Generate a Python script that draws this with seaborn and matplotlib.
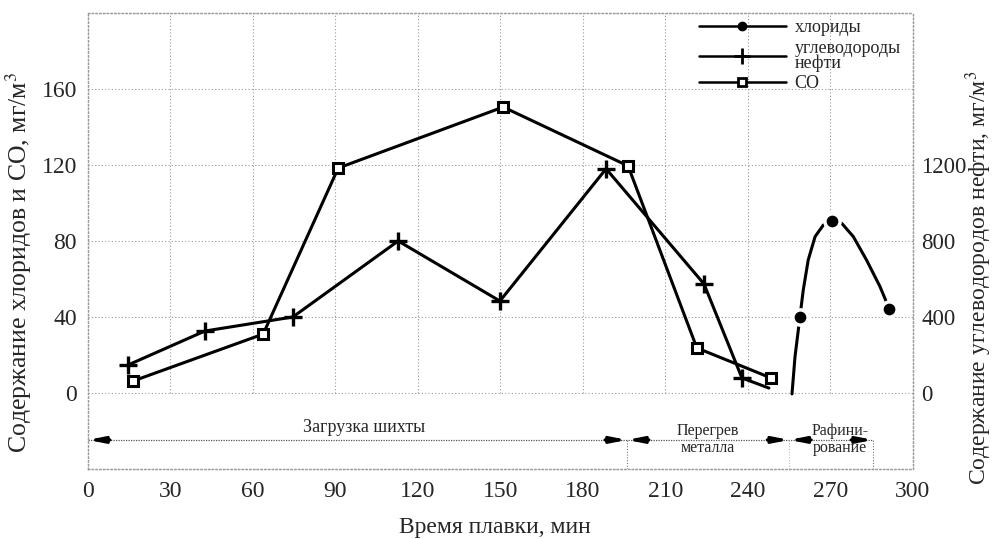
import numpy as np
import pandas as pd
import matplotlib
matplotlib.use("Agg")
import matplotlib.pyplot as plt
from matplotlib.lines import Line2D
import seaborn as sns

# CO, mg/m3 (left axis)
co_time = [16.4, 63.7, 91.0, 151.0, 196.4, 221.4, 248.4]
co_val = [6.3, 31.0, 118.4, 150.5, 119.5, 23.7, 7.9]

# petroleum hydrocarbons, mg/m3 (right axis); last point has no marker
hc_time = [14.5, 42.5, 74.5, 112.8, 149.8, 188.4, 224.0, 237.8, 247.6]
hc_val = [147, 326, 400, 800, 484, 1180, 574, 79, 26]

# chlorides, mg/m3 (left axis): measured points and the drawn curve
cl_time = [258.9, 270.7, 291.4]
cl_val = [40.2, 90.5, 44.2]
cl_curve_t = [256.0, 257.1, 258.9, 260.1, 261.9, 264.4, 267.4, 270.7,
              274.1, 278.3, 283.1, 288.0, 291.4]
cl_curve_v = [-0.5, 19.1, 40.2, 54.2, 70.0, 82.3, 88.4, 90.5,
              89.3, 82.3, 70.0, 56.0, 44.2]

x_ticks = [0, 30, 60, 90, 120, 150, 180, 210, 240, 270, 300]
left_ticks = [0, 40, 80, 120, 160]
right_ticks = [0, 400, 800, 1200]

# process stages along the time axis
stage_bounds = [0, 196, 255, 285.5]
stage_names = ["Загрузка шихты", "Перегрев\nметалла", "Рафини-\nрование"]

sns.set_style("white")
plt.rcParams["font.family"] = ["Liberation Serif", "DejaVu Serif"]
plt.rcParams["mathtext.fontset"] = "stix"

fig = plt.figure(figsize=(9.94, 5.39), dpi=100)
ax = fig.add_axes([0.0885, 0.1299, 0.83, 0.846])
ax2 = ax.twinx()

grid_kw = dict(color="#9a9a9a", lw=0.8, ls=(0, (1, 2)))

ax.set_xlim(0, 300)
ax.set_ylim(-40, 200)
ax2.set_ylim(-400, 2000)

# grid: horizontal over full width, vertical only above zero
for yv in left_ticks:
    ax.axhline(yv, zorder=0, **grid_kw)
ax.vlines(x_ticks[1:-1], 0, 200, zorder=0, **grid_kw)

co_df = pd.DataFrame({"t": co_time, "v": co_val})
hc_df = pd.DataFrame({"t": hc_time, "v": hc_val})
curve_df = pd.DataFrame({"t": cl_curve_t, "v": cl_curve_v})
cl_df = pd.DataFrame({"t": cl_time, "v": cl_val})

sns.lineplot(data=curve_df, x="t", y="v", sort=False, ax=ax, color="black",
             lw=2.2, zorder=3)
sns.scatterplot(data=cl_df, x="t", y="v", ax=ax, color="black", s=120,
                edgecolor="white", linewidth=2.5, zorder=4)
sns.lineplot(data=co_df, x="t", y="v", sort=False, ax=ax, color="black",
             lw=2.2, marker="s", markersize=7, markerfacecolor="white",
             markeredgecolor="black", markeredgewidth=2.2, zorder=3)
sns.lineplot(data=hc_df, x="t", y="v", sort=False, ax=ax2, color="black",
             lw=2.2, marker="+", markersize=13, markeredgewidth=2.4,
             markeredgecolor="black",
             markevery=list(range(len(hc_time) - 1)), zorder=3)

# stage arrows below the zero line
ya = -24.7
ax.plot([0, 285.5], [ya, ya], color="#555555", lw=0.9, ls=(0, (1, 1)))
head = dict(arrowstyle="-|>,head_length=0.9,head_width=0.18", color="black",
            lw=2.2, shrinkA=0, shrinkB=0)
for a, b in zip(stage_bounds[:-1], stage_bounds[1:]):
    ax.annotate("", xy=(a, ya), xytext=(a + 8, ya), arrowprops=head)
    ax.annotate("", xy=(b, ya), xytext=(b - 8, ya), arrowprops=head)
ax.vlines([196, 285.5], -40, ya, color="#777777", lw=0.8, ls=(0, (1, 1.5)))
ax.vlines([255], -40, ya, color="#bbbbbb", lw=0.8, ls=(0, (1, 1.5)))
ax.text(100.5, -18, stage_names[0], ha="center", va="center", fontsize=13)
ax.text(225.5, -24.5, stage_names[1], ha="center", va="center", fontsize=11.5,
        linespacing=1.15)
ax.text(273.5, -24.5, stage_names[2], ha="center", va="center", fontsize=11.5,
        linespacing=1.15)

# axes, ticks, labels
ax.set_xticks(x_ticks)
ax.set_yticks(left_ticks)
ax2.set_yticks(right_ticks)
for a_ in (ax, ax2):
    for sp in a_.spines.values():
        sp.set_color("#9a9a9a")
        sp.set_linestyle((0, (1, 2)))
        sp.set_linewidth(0.9)
ax.tick_params(axis="x", direction="in", length=7, width=0.9,
               color="#777777", labelsize=17, pad=9)
ax.tick_params(axis="y", length=0, labelsize=17, pad=8)
ax2.tick_params(axis="y", length=0, labelsize=16.5, pad=6)
ax.set_xlabel("")
ax.set_ylabel("")
ax2.set_ylabel("")

fig.text(495 / 994, 1 - 527 / 539, "Время плавки, мин", fontsize=17,
         ha="center", va="center")
fig.text(19 / 994, 1 - 262 / 539, "Содержание хлоридов и CO, мг/м$^3$",
         fontsize=18.5, rotation=90, ha="center", va="center")
fig.text(979 / 994, 1 - 278 / 539,
         "Содержание углеводородов нефти, мг/м$^3$",
         fontsize=17, rotation=90, ha="center", va="center")

# legend
handles = [
    Line2D([], [], color="black", lw=1.8, marker="o", markersize=6),
    Line2D([], [], color="black", lw=1.8, marker="+", markersize=11,
           markeredgewidth=2),
    Line2D([], [], color="black", lw=1.8, marker="s", markersize=6,
           markerfacecolor="white", markeredgewidth=2),
]
labels = ["хлориды", "углеводороды\nнефти", "CO"]
leg = ax2.legend(handles, labels, loc="upper left", bbox_to_anchor=(0.733, 1.0),
                 frameon=False, fontsize=13, handlelength=4.8, numpoints=1,
                 labelspacing=0.2, handletextpad=0.5, borderaxespad=0.0,
                 borderpad=0.35)
for t in leg.get_texts():
    t.set_linespacing(0.8)

plt.savefig("out.png", dpi=100)
